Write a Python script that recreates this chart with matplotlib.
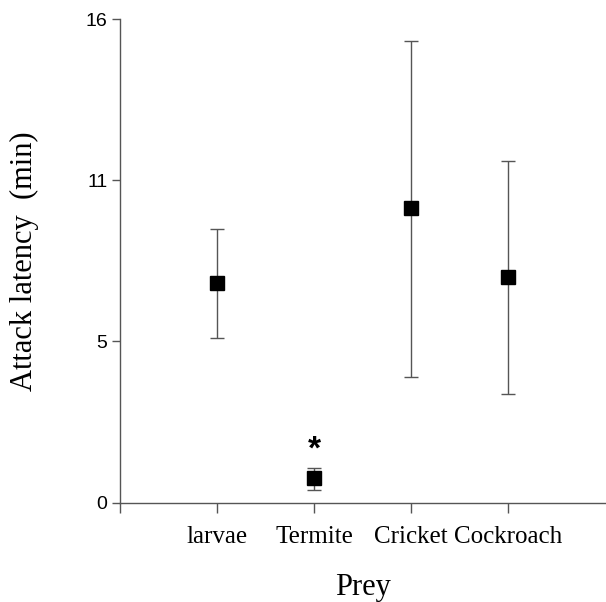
import matplotlib.pyplot as plt

prey = ['larvae', 'Termite', 'Cricket', 'Cockroach']
mean = [7.26, 0.81, 9.75, 7.47]
upper = [9.04, 1.15, 15.27, 11.30]
lower = [5.43, 0.41, 4.16, 3.59]
ytick_vals = [0, 16 / 3, 32 / 3, 16]
ytick_labels = ['0', '5', '11', '16']

xpos = list(range(1, len(prey) + 1))
err_lo = [m - l for m, l in zip(mean, lower)]
err_hi = [u - m for u, m in zip(upper, mean)]

fig = plt.figure(figsize=(6.06, 6.02), dpi=100)
ax = fig.add_axes([120 / 606, 99.5 / 602, 485 / 606, 483.5 / 602])

ax.errorbar(xpos, mean, yerr=[err_lo, err_hi], fmt='none', ecolor='#555555',
            elinewidth=1.0, capsize=4.8, capthick=1.0, zorder=2)
ax.plot(xpos, mean, 's', color='black', markersize=10, zorder=3)
ax.text(2, 1.72, '*', ha='center', va='center', fontsize=24,
        family='Liberation Sans', fontweight='bold')

ax.set_xlim(0, 5)
ax.set_ylim(0, 16)
ax.set_xticks([0] + xpos)
ax.set_xticklabels([''] + prey, family='Liberation Serif', fontsize=18)
ax.set_yticks(ytick_vals)
ax.set_yticklabels(ytick_labels, family='Liberation Sans', fontsize=14)

for s in ['top', 'right']:
    ax.spines[s].set_visible(False)
for s in ['left', 'bottom']:
    ax.spines[s].set_color('#555555')
    ax.spines[s].set_linewidth(1.0)
ax.tick_params(axis='both', direction='out', width=1.0, color='#555555')
ax.tick_params(axis='x', length=7, pad=10)
ax.tick_params(axis='y', length=6, pad=3)

ax.set_xlabel('Prey', family='Liberation Serif', fontsize=22, labelpad=18)
ax.set_ylabel('Attack latency  (min)', family='Liberation Serif', fontsize=22, labelpad=34)

fig.savefig('out.png', dpi=100)
